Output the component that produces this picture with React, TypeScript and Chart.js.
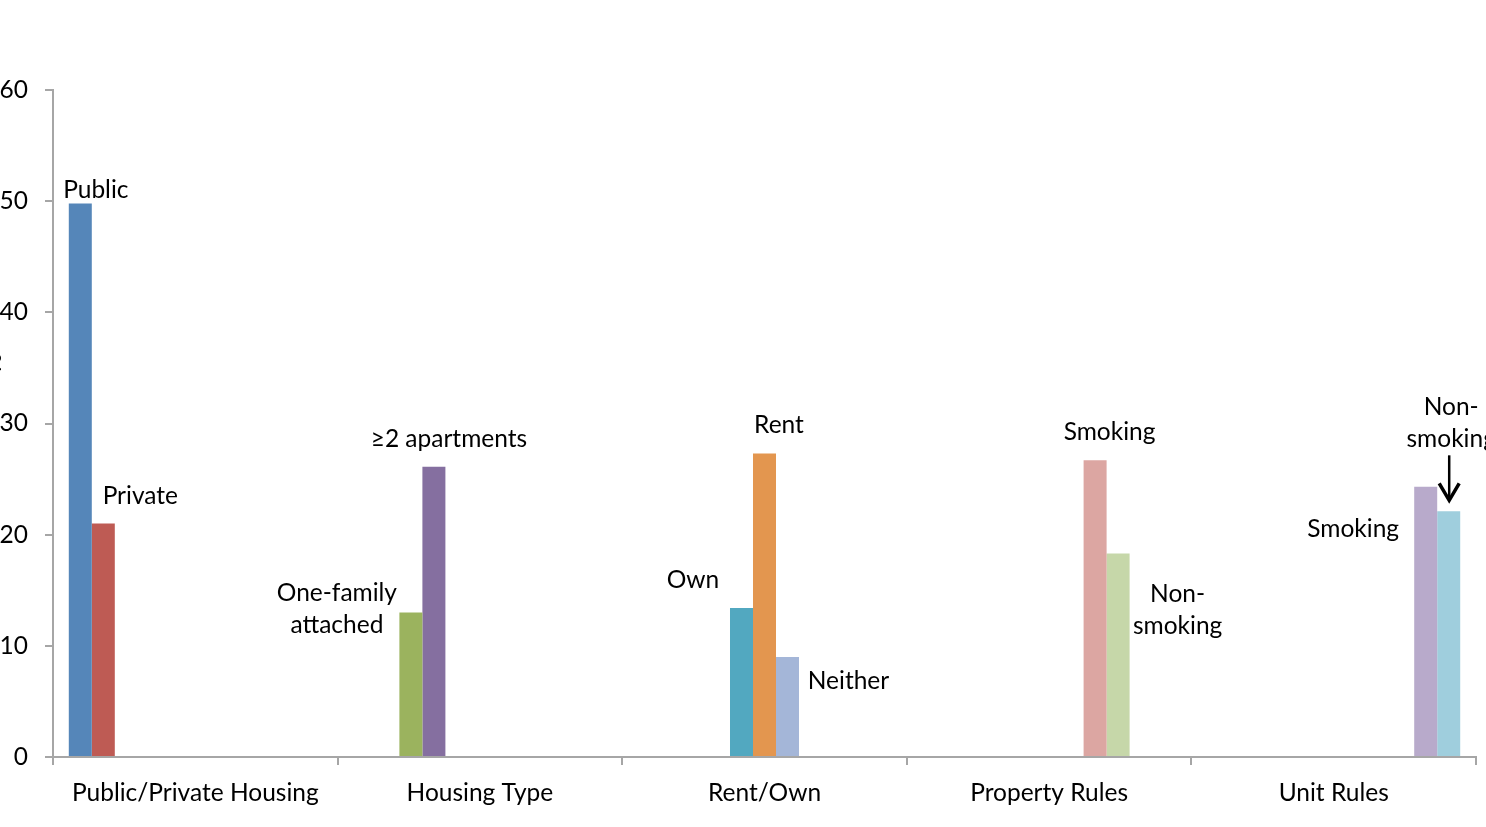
import React, { useEffect, useRef } from "react";
import { Chart, registerables } from "chart.js";

Chart.register(...registerables);

// ---------- data ----------
const categories = ["Public/Private Housing", "Housing Type", "Rent/Own", "Property Rules", "Unit Rules"];
const seriesNames = [
  "Public",
  "Private",
  "One-family attached",
  "≥2 apartments",
  "Own",
  "Rent",
  "Neither",
  "Smoking (property)",
  "Non-smoking (property)",
  "Smoking (unit)",
  "Non-smoking (unit)",
];
const seriesCategory = [0, 0, 1, 1, 2, 2, 2, 3, 3, 4, 4];
const seriesValues = [49.8, 21.0, 13.0, 26.1, 13.4, 27.3, 9.0, 26.7, 18.3, 24.3, 22.1];
const seriesColors = [
  "#5586B9",
  "#BE5B54",
  "#9BB35E",
  "#856FA0",
  "#52A8C0",
  "#E3964F",
  "#A4B6D8",
  "#DCA6A2",
  "#C6D7A9",
  "#B8AACB",
  "#9FCEDD",
];
const yTicks = [0, 10, 20, 30, 40, 50, 60];
const yAxisTitle = "%";

// annotation text for each series (lines), with pixel offsets from bar top-centre
const labelLines = [
  ["Public"],
  ["Private"],
  ["One-family", "attached"],
  ["≥2 apartments"],
  ["Own"],
  ["Rent"],
  ["Neither"],
  ["Smoking"],
  ["Non-", "smoking"],
  ["Smoking"],
  ["Non-", "smoking"],
];
const labelOffsets = [
  { dx: 15.5, dy: -13 },
  { dx: 37, dy: -27 },
  { dx: -74, dy: -19 },
  { dx: 15, dy: -28 },
  { dx: -48.5, dy: -28 },
  { dx: 14.5, dy: -28 },
  { dx: 61, dy: 24 },
  { dx: 14.5, dy: -28 },
  { dx: 59.5, dy: 41 },
  { dx: -72.5, dy: 42 },
  { dx: 2.5, dy: -104 },
];
const arrowSeries = 10;

// ---------- layout ----------
const SHIFT = 20;
const CANVAS_W = 1530;
const CANVAS_H = 827;
const FONT = "Lato";
const FONT_SIZE = 24.5;
const AXIS_COLOR = "#A6A6A6";

const annotationPlugin = {
  id: "barAnnotations",
  afterDatasetsDraw(chart: any) {
    const ctx = chart.ctx;
    ctx.save();
    ctx.fillStyle = "#000";
    ctx.font = `${FONT_SIZE}px ${FONT}`;
    ctx.textAlign = "center";
    ctx.textBaseline = "middle";
    seriesNames.forEach((_, i) => {
      const meta = chart.getDatasetMeta(i);
      const el = meta.data[seriesCategory[i]];
      if (!el) return;
      const off = labelOffsets[i];
      labelLines[i].forEach((line, j) => {
        ctx.fillText(line, el.x + off.dx, el.y + off.dy + j * 32);
      });
    });
    // partially visible y-axis title at the far left edge
    ctx.save();
    ctx.translate(SHIFT - 7, 363);
    ctx.rotate(-Math.PI / 2);
    ctx.fillText(yAxisTitle, 0, 0);
    ctx.restore();
    // arrow
    const ael = chart.getDatasetMeta(arrowSeries).data[seriesCategory[arrowSeries]];
    if (ael) {
      const x = ael.x + 0.5;
      const y1 = ael.y - 56;
      const y2 = ael.y - 11;
      ctx.strokeStyle = "#000";
      ctx.lineWidth = 2.5;
      ctx.beginPath();
      ctx.moveTo(x, y1);
      ctx.lineTo(x, y2 - 2);
      ctx.stroke();
      ctx.lineWidth = 3.5;
      ctx.lineJoin = "miter";
      ctx.beginPath();
      ctx.moveTo(x - 10, y2 - 17);
      ctx.lineTo(x, y2);
      ctx.lineTo(x + 10, y2 - 17);
      ctx.stroke();
    }
    ctx.restore();
  },
};

export default function App() {
  const ref = useRef<HTMLCanvasElement | null>(null);

  useEffect(() => {
    if (!ref.current) return;
    const datasets = seriesNames.map((name, i) => ({
      label: name,
      data: categories.map((_, c) => (c === seriesCategory[i] ? seriesValues[i] : null)),
      backgroundColor: seriesColors[i],
      borderWidth: 0,
      categoryPercentage: 0.889,
      barPercentage: 1.0,
    }));
    const chart = new Chart(ref.current, {
      type: "bar",
      data: { labels: categories, datasets },
      options: {
        responsive: false,
        animation: false,
        events: [],
        layout: { padding: { top: 90, right: CANVAS_W - (1476 + SHIFT), left: 0, bottom: 0 } },
        plugins: {
          legend: { display: false },
          tooltip: { enabled: false },
        },
        scales: {
          x: {
            grid: {
              display: true,
              drawOnChartArea: false,
              drawTicks: true,
              tickLength: 8,
              color: AXIS_COLOR,
              lineWidth: 2,
              offset: true,
            },
            border: { display: true, color: AXIS_COLOR, width: 2 },
            ticks: {
              color: "#000",
              font: { family: FONT, size: FONT_SIZE },
              padding: 13,
              maxRotation: 0,
              autoSkip: false,
            },
            afterFit: (scale: any) => {
              scale.height = CANVAS_H - 757;
            },
          },
          y: {
            min: 0,
            max: 60,
            afterBuildTicks: (scale: any) => {
              scale.ticks = yTicks.map((v) => ({ value: v }));
            },
            grid: {
              display: true,
              drawOnChartArea: false,
              drawTicks: true,
              tickLength: 8,
              color: AXIS_COLOR,
              lineWidth: 2,
            },
            border: { display: true, color: AXIS_COLOR, width: 2 },
            ticks: {
              color: "#000",
              font: { family: FONT, size: FONT_SIZE },
              padding: 17,
            },
            afterFit: (scale: any) => {
              scale.width = 53 + SHIFT;
            },
          },
        },
      },
      plugins: [annotationPlugin],
    });
    return () => chart.destroy();
  }, []);

  return (
    <div
      style={{
        position: "fixed",
        left: 0,
        top: 0,
        width: 1486,
        height: 827,
        overflow: "hidden",
        background: "#fff",
      }}
    >
      <canvas
        ref={ref}
        width={CANVAS_W}
        height={CANVAS_H}
        style={{ position: "absolute", left: -SHIFT, top: 0, width: CANVAS_W, height: CANVAS_H }}
      />
    </div>
  );
}
